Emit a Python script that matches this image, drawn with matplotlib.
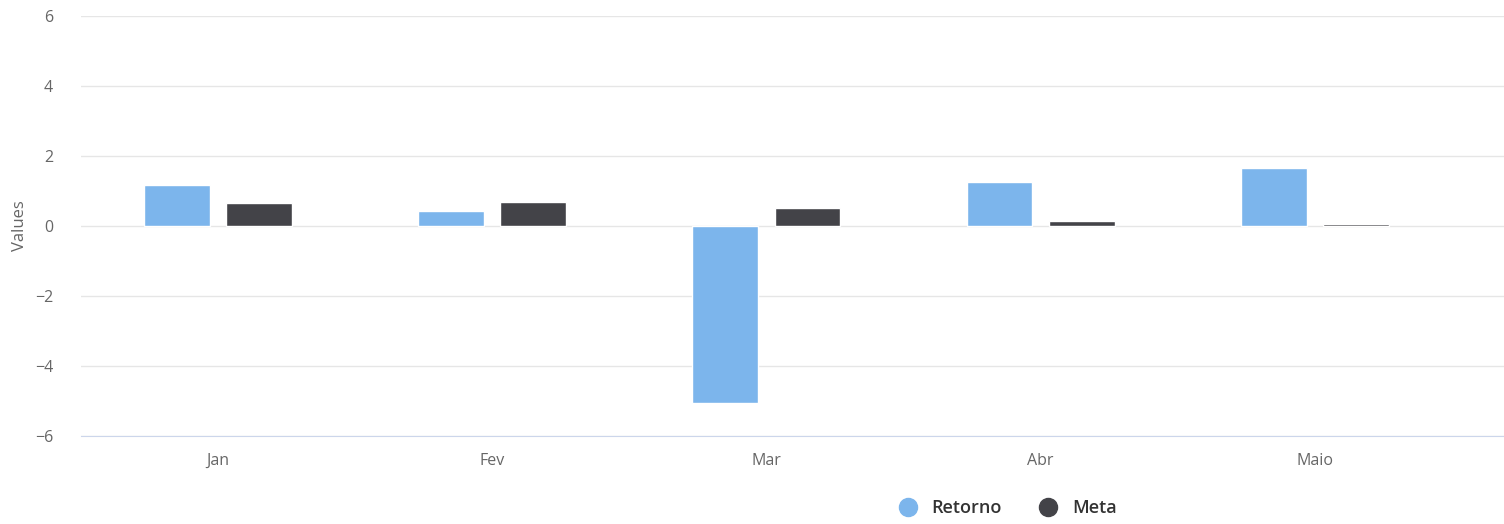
import numpy as np
import matplotlib.pyplot as plt
from matplotlib.lines import Line2D

meses = ["Jan", "Fev", "Mar", "Abr", "Maio"]
retorno = [1.17, 0.44, -5.07, 1.27, 1.65]
meta = [0.65, 0.69, 0.52, 0.14, 0.05]

plt.rcParams['font.family'] = ['Open Sans', 'DejaVu Sans']

fig = plt.figure(figsize=(15.04, 5.24), dpi=100)
ax = fig.add_axes([81 / 1504, 1 - 436 / 524, 1 - 81 / 1504, 420 / 524])

x = np.arange(len(meses))
w = 0.24
ax.bar(x - 0.15, retorno, w, color="#7cb5ec", edgecolor="white", linewidth=1, zorder=3)
ax.bar(x + 0.15, meta, w, color="#434348", edgecolor="white", linewidth=1, zorder=3)

ax.set_ylim(-6, 6)
ax.set_xlim(-0.5, 4.69)
ax.set_yticks(range(-6, 7, 2))
ax.set_xticks(x)
ax.set_xticklabels(meses)
ax.yaxis.grid(True, color="#e6e6e6", linewidth=1, zorder=0)
ax.set_axisbelow(True)
for s in ["top", "right", "left"]:
    ax.spines[s].set_visible(False)
ax.spines["bottom"].set_color("#ccd6eb")
ax.tick_params(axis="y", length=0, pad=20, labelsize=11.5, labelcolor="#666666")
ax.tick_params(axis="x", length=0, pad=12, labelsize=11.5, labelcolor="#666666")
ax.set_ylabel("Values", fontsize=12, color="#666666", labelpad=5)

handles = [Line2D([], [], marker="o", linestyle="", markersize=13, color="#7cb5ec"),
           Line2D([], [], marker="o", linestyle="", markersize=13, color="#434348")]
leg = fig.legend(handles, ["Retorno", "Meta"], loc="center", bbox_to_anchor=(1003 / 1504, 1 - 508 / 524),
                 ncol=2, frameon=False, fontsize=13, handletextpad=0.3, columnspacing=1.6,
                 labelcolor="#333333")
for t in leg.get_texts():
    t.set_fontweight("semibold")

fig.savefig("out.png", dpi=100)
